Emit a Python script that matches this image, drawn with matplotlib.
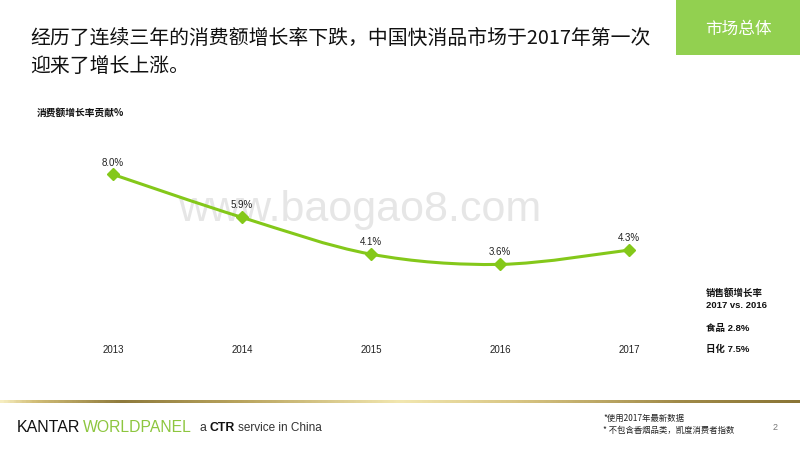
import matplotlib
matplotlib.use("Agg")
import matplotlib.pyplot as plt
import numpy as np
from matplotlib.path import Path
from matplotlib.patches import PathPatch, Rectangle
from matplotlib.colors import LinearSegmentedColormap

plt.rcParams['font.family'] = ['Noto Sans CJK SC', 'DejaVu Sans']

years = ["2013", "2014", "2015", "2016", "2017"]
growth = [8.0, 5.9, 4.1, 3.6, 4.3]
value_labels = ["8.0%", "5.9%", "4.1%", "3.6%", "4.3%"]
title_lines = ["经历了连续三年的消费额增长率下跌，中国快消品市场于2017年第一次", "迎来了增长上涨。"]
tag = "市场总体"
ytitle = "消费额增长率贡献%"
side_lines = ["销售额增长率", "2017 vs. 2016", "食品 2.8%", "日化 7.5%"]
notes = ["*使用2017年最新数据", "* 不包含香烟品类，凯度消费者指数"]

W, H = 800, 450
fig = plt.figure(figsize=(8, 4.5), dpi=100)
fig.patch.set_facecolor("white")

def fx(x):
    return x / W

def fy(y):
    return 1 - y / H

LINE = "#84C81A"

# watermark (behind everything)
fig.text(fx(360), fy(210), "www.baogao8.com", ha="center", va="center", fontsize=31,
         family="Liberation Sans", color="#E6E6E6", zorder=-5)

# main axes
ax = fig.add_axes([fx(48.5), fy(338), 645 / W, (338 - 154) / H])
ax.set_zorder(2)
ax.patch.set_alpha(0)
ax.set_xlim(-0.5, 4.5)
ax.set_ylim(0, 9)
ax.axis("off")

xs = np.arange(len(growth), dtype=float)
ys = np.array(growth, dtype=float)

# smooth curve via Catmull-Rom -> cubic Bezier path
verts = [(xs[0], ys[0])]
codes = [Path.MOVETO]
n = len(xs)
for i in range(n - 1):
    p0 = np.array([xs[max(i - 1, 0)], ys[max(i - 1, 0)]])
    p1 = np.array([xs[i], ys[i]])
    p2 = np.array([xs[i + 1], ys[i + 1]])
    p3 = np.array([xs[min(i + 2, n - 1)], ys[min(i + 2, n - 1)]])
    c1 = p1 + (p2 - p0) / 6.0
    c2 = p2 - (p3 - p1) / 6.0
    verts += [tuple(c1), tuple(c2), tuple(p2)]
    codes += [Path.CURVE4] * 3
ax.add_patch(PathPatch(Path(verts, codes), fill=False, edgecolor=LINE, lw=2.2, zorder=3))
ax.plot(xs, ys, linestyle="none", marker="D", markersize=6.5, color=LINE, zorder=4)

for x, y, lab in zip(xs, ys, value_labels):
    ax.annotate(lab, (x, y), xytext=(0, 5), textcoords="offset points",
                ha="center", va="bottom", fontsize=7, family="Liberation Sans", color="#222222",
                zorder=5)
for x, lab in zip(xs, years):
    ax.annotate(lab, (x, 0), xytext=(0, -5), textcoords="offset points",
                ha="center", va="top", fontsize=7, family="Liberation Sans", color="#222222")

# title
fig.text(fx(30), fy(38), title_lines[0], ha="left", va="center", fontsize=14.3,
         weight="medium", color="#111111")
fig.text(fx(30), fy(67), title_lines[1], ha="left", va="center", fontsize=14.3,
         weight="medium", color="#111111")

# green tag box
fig.patches.append(Rectangle((fx(676), fy(55)), (800 - 676) / W, 55 / H,
                             transform=fig.transFigure, facecolor="#92D050", edgecolor="none"))
fig.text(fx(738), fy(29), tag, ha="center", va="center", fontsize=12, color="white")

# y title
fig.text(fx(37), fy(113), ytitle, ha="left", va="center", fontsize=7, weight="bold", color="#111111")

# side notes
side_y = [293, 305, 328, 349]
for y, s in zip(side_y, side_lines):
    fig.text(fx(706), fy(y), s, ha="left", va="center", fontsize=6.8, weight="bold",
             family=["Liberation Sans", "Noto Sans CJK SC"], color="#111111")

# gold gradient rule
gax = fig.add_axes([0, fy(402.5), 1, 3 / H])
gax.axis("off")
stops_x = [0, 0.04, 0.15, 0.30, 0.50, 0.65, 0.85, 1.0]
stops_c = ["#F6EDC0", "#D2BE78", "#8E7A3C", "#B9A45E", "#F2E7B0", "#D8C583", "#A08A48", "#8A7536"]
cmap = LinearSegmentedColormap.from_list("gold", list(zip(stops_x, stops_c)))
gax.imshow(np.linspace(0, 1, 400)[None, :], aspect="auto", cmap=cmap, extent=[0, 1, 0, 1])

# footer logo
fig.text(fx(17), fy(427), "KANTAR", ha="left", va="center", fontsize=11.5,
         family="Liberation Sans", color="#111111", weight="medium")
fig.text(fx(83), fy(427), "WORLDPANEL", ha="left", va="center", fontsize=11.3,
         family="Liberation Sans", color="#8DC63F")
fig.text(fx(200), fy(428), "a", ha="left", va="center", fontsize=8.8,
         family="Liberation Sans", color="#333333")
fig.text(fx(210), fy(428), "CTR", ha="left", va="center", fontsize=8.8,
         family="Liberation Sans", color="#111111", weight="bold")
fig.text(fx(238), fy(428), "service in China", ha="left", va="center", fontsize=8.5,
         family="Liberation Sans", color="#333333")

fig.text(fx(603), fy(418), notes[0], ha="left", va="center", fontsize=6, color="#222222")
fig.text(fx(603), fy(430), notes[1], ha="left", va="center", fontsize=6, color="#222222")
fig.text(fx(775), fy(427), "2", ha="center", va="center", fontsize=6.5,
         family="Liberation Sans", color="#777777")

fig.savefig("out.png", dpi=100, facecolor="white")
